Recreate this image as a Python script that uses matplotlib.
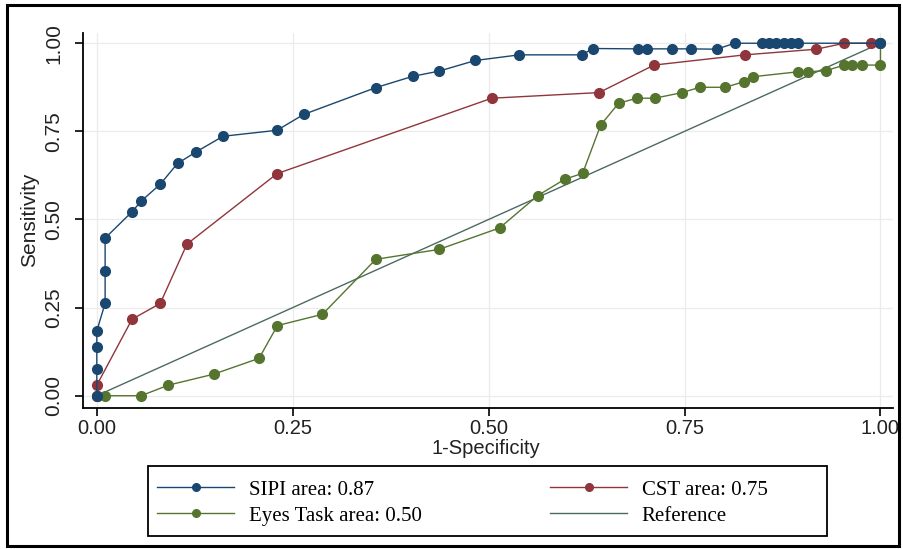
import matplotlib
matplotlib.use("Agg")
import matplotlib.pyplot as plt
from matplotlib.lines import Line2D
from matplotlib.patches import Rectangle

# ROC curve coordinates (1-specificity, sensitivity)
sipi_fpr = [0.0, 0.0, 0.0, 0.0, 0.0106, 0.0106, 0.0106, 0.045, 0.057, 0.081, 0.103,
            0.127, 0.161, 0.230, 0.264, 0.356, 0.403, 0.437, 0.483, 0.539, 0.619,
            0.633, 0.690, 0.7015, 0.734, 0.758, 0.791, 0.814, 0.849, 0.858, 0.867,
            0.877, 0.886, 0.895, 1.0]
sipi_tpr = [0.0, 0.075, 0.138, 0.184, 0.262, 0.355, 0.447, 0.522, 0.553, 0.600, 0.659,
            0.692, 0.736, 0.753, 0.798, 0.874, 0.906, 0.921, 0.951, 0.967, 0.967,
            0.985, 0.984, 0.984, 0.984, 0.984, 0.983, 1.0, 1.0, 1.0, 1.0,
            1.0, 1.0, 1.0, 1.0]

cst_fpr = [0.0, 0.0, 0.045, 0.081, 0.115, 0.230, 0.504, 0.641, 0.711, 0.827, 0.918,
           0.954, 0.988, 1.0]
cst_tpr = [0.0, 0.030, 0.217, 0.262, 0.430, 0.630, 0.844, 0.860, 0.938, 0.967, 0.983,
           1.0, 1.0, 1.0]

eyes_fpr = [0.0, 0.0106, 0.0565, 0.0914, 0.149, 0.207, 0.2305, 0.288, 0.356, 0.4366,
            0.514, 0.5625, 0.597, 0.620, 0.643, 0.666, 0.6895, 0.712, 0.747, 0.7695,
            0.802, 0.826, 0.8375, 0.895, 0.908, 0.930, 0.954, 0.964, 0.976, 1.0, 1.0]
eyes_tpr = [0.0, 0.0, 0.0, 0.030, 0.061, 0.106, 0.199, 0.231, 0.387, 0.415,
            0.476, 0.5675, 0.614, 0.631, 0.768, 0.830, 0.844, 0.844, 0.860, 0.875,
            0.875, 0.891, 0.905, 0.919, 0.919, 0.922, 0.938, 0.938, 0.938, 0.938, 1.0]

ref_line = [0.0, 1.0]

series_labels = ["SIPI area: 0.87", "CST area: 0.75", "Eyes Task area: 0.50", "Reference"]
tick_values = [0.0, 0.25, 0.5, 0.75, 1.0]
tick_labels = ["0.00", "0.25", "0.50", "0.75", "1.00"]

navy = "#1a476f"
maroon = "#90353b"
green = "#55752f"
refc = "#4d6a60"

W, H = 904, 549
fig = plt.figure(figsize=(W / 100, H / 100), dpi=100)
fig.patch.set_facecolor("white")

ax = fig.add_axes([82.7 / W, 1 - 407.7 / H, (893 - 82.7) / W, (407.7 - 33) / H])
ax.set_xlim(-0.018, 1.016)
ax.set_ylim(-0.034, 1.029)

for v in tick_values:
    ax.axhline(v, color="#ebebeb", lw=0.9, zorder=0)
    ax.axvline(v, color="#ebebeb", lw=0.9, zorder=0)

mk = dict(marker="o", markersize=7.0, lw=1.0)
ax.plot(ref_line, ref_line, color=refc, lw=1.0, zorder=2)
ax.plot(eyes_fpr, eyes_tpr, color=green, zorder=3, **mk)
ax.plot(cst_fpr, cst_tpr, color=maroon, zorder=4, **mk)
ax.plot(sipi_fpr, sipi_tpr, color=navy, zorder=5, **mk)

for s in ["top", "right"]:
    ax.spines[s].set_visible(False)
for s in ["left", "bottom"]:
    ax.spines[s].set_linewidth(1.3)
    ax.spines[s].set_color("black")

font_ax = ["Liberation Sans", "DejaVu Sans"]
ax.set_xticks(tick_values)
ax.set_xticklabels(tick_labels, family=font_ax, fontsize=14.5, color="#222222")
ax.set_yticks(tick_values)
ax.set_yticklabels(tick_labels, family=font_ax, fontsize=15, color="#222222",
                   rotation=90, va="center")
ax.tick_params(axis="both", direction="out", length=6, width=1.2, color="black")
ax.tick_params(axis="x", pad=2)
ax.tick_params(axis="y", pad=8)

fig.text(486 / W, 1 - 449 / H, "1-Specificity", family=font_ax, fontsize=14.5,
         ha="center", va="center", color="#222222")
fig.text(30 / W, 1 - 220 / H, "Sensitivity", family=font_ax, fontsize=15,
         ha="center", va="center", rotation=90, color="#222222")

# Legend: box plus two borderless columns
lx0, lx1, ly0, ly1 = 148, 827, 466, 536
fig.patches.append(Rectangle((lx0 / W, 1 - ly1 / H), (lx1 - lx0) / W, (ly1 - ly0) / H,
                             transform=fig.transFigure, fill=False, ec="black", lw=1.3))

def handle(c, marker=True):
    if marker:
        return Line2D([], [], color=c, lw=1.0, marker="o", markersize=5.5)
    return Line2D([], [], color=c, lw=1.0)

legend_font = {"family": ["Liberation Serif", "DejaVu Serif"], "size": 15}
common = dict(loc="upper left", frameon=False, prop=legend_font, handlelength=3.7,
              handletextpad=0.7, labelspacing=0.3, borderpad=0.2, borderaxespad=0)
col1 = fig.legend([handle(navy), handle(green)], [series_labels[0], series_labels[2]],
                  bbox_to_anchor=(153 / W, 1 - 476 / H), **common)
col2 = fig.legend([handle(maroon), handle(refc, False)], [series_labels[1], series_labels[3]],
                  bbox_to_anchor=(546 / W, 1 - 476 / H), **common)

# Outer frame of the graph
fig.patches.append(Rectangle((7 / W, 1 - 546 / H), (899 - 7) / W, (546 - 5) / H,
                             transform=fig.transFigure, fill=False, ec="black", lw=2.2))

fig.savefig("out.png", dpi=100, facecolor="white")
